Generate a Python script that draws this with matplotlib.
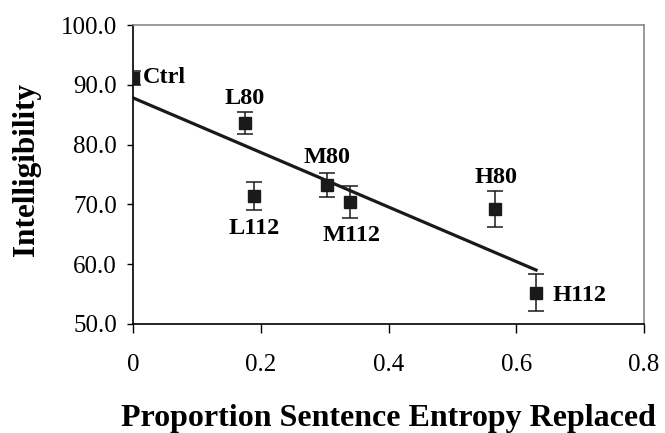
import numpy as np
import matplotlib
matplotlib.use("Agg")
import matplotlib.pyplot as plt

labels = ["Ctrl", "L80", "L112", "M80", "M112", "H80", "H112"]
x_vals = [0.0, 0.175, 0.189, 0.303, 0.340, 0.567, 0.631]
y_vals = [91.1, 83.6, 71.4, 73.2, 70.4, 69.2, 55.2]
y_err = [1.2, 1.8, 2.3, 2.0, 2.7, 3.0, 3.1]
x_ticks = [0, 0.2, 0.4, 0.6, 0.8]
x_tick_labels = ["0", "0.2", "0.4", "0.6", "0.8"]
y_ticks = [50, 60, 70, 80, 90, 100]
y_tick_labels = ["50.0", "60.0", "70.0", "80.0", "90.0", "100.0"]

plt.rcParams['font.family'] = ['Liberation Serif', 'DejaVu Serif']

fig = plt.figure(figsize=(6.65, 4.33), dpi=100)
ax = fig.add_axes([133/665, 1-324/433, (644-133)/665, (324-25)/433])

ax.errorbar(x_vals, y_vals, yerr=y_err, fmt='s', color='#1a1a1a', ms=8,
            ecolor='#1a1a1a', elinewidth=1.1, capsize=5.5, capthick=1.1, zorder=3)

coef = np.polyfit(x_vals, y_vals, 1)
xl = np.array([min(x_vals), max(x_vals)])
ax.plot(xl, np.polyval(coef, xl), color='#1a1a1a', lw=2.3, zorder=2)

# point labels: (dx, dy) in pixels, ha
offsets = {
    "Ctrl": (10, 1, 'left', 'center'),
    "L80": (0, 25, 'center', 'center'),
    "L112": (0, -32, 'center', 'center'),
    "M80": (0, 28, 'center', 'center'),
    "M112": (1, -33, 'center', 'center'),
    "H80": (1, 32, 'center', 'center'),
    "H112": (16, -3, 'left', 'center'),
}
for lab, xv, yv in zip(labels, x_vals, y_vals):
    dx, dy, ha, va = offsets[lab]
    ax.annotate(lab, (xv, yv), xytext=(dx*0.72, dy*0.72), textcoords='offset points',
                ha=ha, va=va, fontsize=17.5, fontweight='bold', color='black')

ax.set_xlim(0, 0.8)
ax.set_ylim(50, 100)
ax.set_xticks(x_ticks)
ax.set_xticklabels(x_tick_labels)
ax.set_yticks(y_ticks)
ax.set_yticklabels(y_tick_labels)
ax.tick_params(axis='both', labelsize=18, width=1, direction='out', color='black')
ax.tick_params(axis='y', length=4.5, pad=7)
ax.tick_params(axis='x', length=6.5, pad=15)

ax.spines['left'].set_color('black')
ax.spines['bottom'].set_color('black')
ax.spines['top'].set_color('#888888')
ax.spines['right'].set_color('#888888')
for s in ax.spines.values():
    s.set_linewidth(1.2)

fig.text(388.5/665, 1-426/433, "Proportion Sentence Entropy Replaced", fontsize=23,
         fontweight='bold', ha='center', va='baseline')
fig.text(27/665, 1-170/433, "Intelligibility", fontsize=22.5, fontweight='bold',
         ha='center', va='center', rotation=90)

fig.savefig("out.png", dpi=100)
